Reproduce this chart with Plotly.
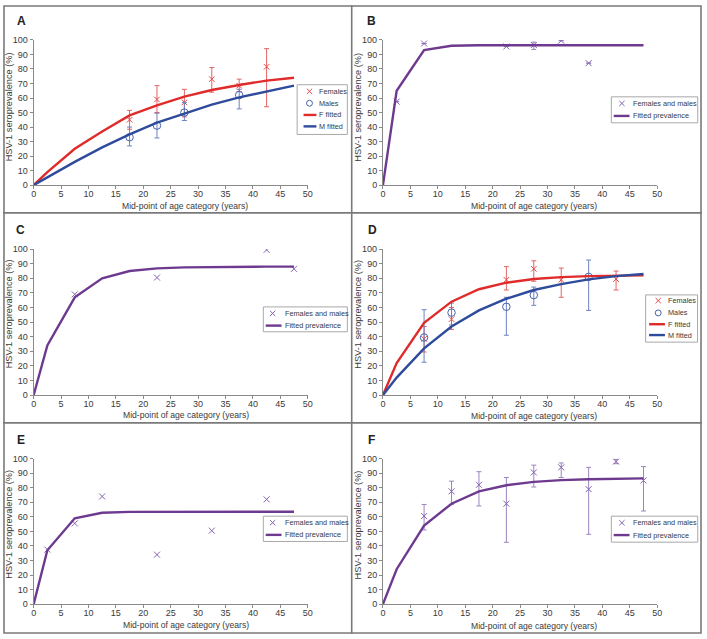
import plotly.graph_objects as go

W, H = 707, 639

# ---------------- data ----------------
fit_age = [0, 2.5, 7.5, 12.5, 17.5, 22.5, 27.5, 32.5, 37.5, 42.5, 47.5]

# Panel A
a_f_age = [17.5, 22.5, 27.5, 32.5, 37.5, 42.5]
a_f_prev = [45, 59, 57, 73, 68.5, 81.5]
a_f_low = [38.5, 50, 47, 64, 64.5, 54]
a_f_high = [51.5, 68.5, 66, 81, 73, 94]
a_m_age = [17.5, 22.5, 27.5, 37.5]
a_m_prev = [33, 41, 50, 62]
a_m_low = [27, 32.5, 44.5, 52.5]
a_m_high = [40, 49.5, 57, 66]
a_f_fit = [0, 9, 25, 37, 48, 55, 61, 65.5, 69, 72, 74]
a_m_fit = [0, 5.5, 16, 26, 35, 43, 49.5, 55.5, 60.5, 64.5, 68.5]

# Panel B
b_age = [2.5, 7.5, 22.5, 27.5, 32.5, 37.5]
b_prev = [57.5, 97.5, 95.5, 96.5, 99.5, 84]
b_low = [None, None, None, 93.5, None, None]
b_high = [None, None, None, 98.5, None, None]
b_fit = [0, 65, 93, 96, 96.3, 96.3, 96.3, 96.3, 96.3, 96.3, 96.3]

# Panel C
c_age = [7.5, 22.5, 42.5, 47.5]
c_prev = [69, 80.5, 99.5, 86.5]
c_fit = [0, 34, 67, 80, 85, 86.8, 87.5, 87.8, 88, 88, 88]

# Panel D
d_f_age = [7.5, 12.5, 22.5, 27.5, 32.5, 42.5]
d_f_prev = [38.5, 52, 79, 86.5, 79, 79.5]
d_f_low = [29.5, 45, 72, 78, 67, 72]
d_f_high = [47, 60, 88, 92, 87, 85]
d_m_age = [7.5, 12.5, 22.5, 27.5, 37.5]
d_m_prev = [39.5, 56.5, 60.5, 68.5, 81]
d_m_low = [22.5, 48, 41, 61.5, 58]
d_m_high = [58.5, 63, 67, 74, 92.5]
d_f_fit = [0, 22, 49.5, 64, 72.5, 77, 79.5, 80.8, 81.5, 82, 82]
d_m_fit = [0, 12, 32, 47, 58, 66, 72, 76, 79.3, 81.5, 83]

# Panel E
e_age = [2.5, 7.5, 12.5, 22.5, 32.5, 42.5]
e_prev = [37.5, 55.5, 74, 34, 50.5, 72]
e_fit = [0, 37, 59, 62.8, 63.4, 63.5, 63.5, 63.5, 63.5, 63.5, 63.5]

# Panel F
f_age = [7.5, 12.5, 17.5, 22.5, 27.5, 32.5, 37.5, 42.5, 47.5]
f_prev = [60.5, 77.5, 82, 69, 90.5, 94, 79, 98, 85]
f_low = [51, 68.5, 67.5, 42.5, 80.5, 87, 48, 96.5, 64]
f_high = [68.5, 84.5, 91, 87, 95.5, 97, 94, 99.5, 94.5]
f_fit = [0, 24, 54, 69, 77.5, 81.7, 84, 85.2, 85.8, 86.2, 86.4]

x_ticks = [0, 5, 10, 15, 20, 25, 30, 35, 40, 45, 50]
y_ticks = [0, 10, 20, 30, 40, 50, 60, 70, 80, 90, 100]
x_title = "Mid-point of age category (years)"
y_title = "HSV-1 seroprevalence (%)"

# ---------------- styles ----------------
FONT = "Liberation Sans, Arial, sans-serif"
RED_L, RED_M, RED_E = "#E02B2B", "#E5484A", "#E46464"
BLUE_L, BLUE_M, BLUE_E = "#2E4B9C", "#4A64B0", "#6E82C2"
PUR_L, PUR_M, PUR_E = "#6E3A90", "#8663B0", "#9C84C0"
AX = "#8A8A8A"
TXT = "#3A3A3A"


def px(x):
    return x / W


def py(y):
    return 1 - y / H


def errs(prev, low, high):
    plus = [None if h is None else h - v for v, h in zip(prev, high)]
    minus = [None if l is None else v - l for v, l in zip(prev, low)]
    return plus, minus


fig = go.Figure()

# panel geometry (pixels)
col_x = [(31, 308.2), (384.3, 661.7)]
row_y = [(183, 35.5), (396.3, 248), (608.7, 460.8)]


def add_points(ax, age, prev, color, ecolor, symbol, size, low=None, high=None):
    kw = {}
    if low is not None:
        plus, minus = errs(prev, low, high)
        kw["error_y"] = dict(type="data", symmetric=False, array=plus, arrayminus=minus,
                             color=ecolor, thickness=1, width=2.5)
    fig.add_trace(go.Scatter(
        x=age, y=prev, mode="markers", xaxis="x" + ax, yaxis="y" + ax, showlegend=False,
        marker=dict(symbol=symbol, size=size, color=color, line=dict(color=color, width=1)),
        **kw))


def add_fit(ax, values, color):
    fig.add_trace(go.Scatter(
        x=fit_age, y=values, mode="lines", xaxis="x" + ax, yaxis="y" + ax, showlegend=False,
        line=dict(color=color, width=2.4)))


# traces
add_points("1", a_f_age, a_f_prev, RED_M, RED_E, "x-thin-open", 5.5, a_f_low, a_f_high)
add_points("1", a_m_age, a_m_prev, BLUE_M, BLUE_E, "circle-open", 7.5, a_m_low, a_m_high)
add_fit("1", a_f_fit, RED_L)
add_fit("1", a_m_fit, BLUE_L)

add_points("2", b_age, b_prev, PUR_M, PUR_E, "x-thin-open", 6, b_low, b_high)
add_fit("2", b_fit, PUR_L)

add_points("3", c_age, c_prev, PUR_M, PUR_E, "x-thin-open", 6)
add_fit("3", c_fit, PUR_L)

add_points("4", d_f_age, d_f_prev, RED_M, RED_E, "x-thin-open", 5.5, d_f_low, d_f_high)
add_points("4", d_m_age, d_m_prev, BLUE_M, BLUE_E, "circle-open", 7.5, d_m_low, d_m_high)
add_fit("4", d_f_fit, RED_L)
add_fit("4", d_m_fit, BLUE_L)

add_points("5", e_age, e_prev, PUR_M, PUR_E, "x-thin-open", 6)
add_fit("5", e_fit, PUR_L)

add_points("6", f_age, f_prev, PUR_M, PUR_E, "x-thin-open", 6, f_low, f_high)
add_fit("6", f_fit, PUR_L)

layout = dict(
    width=W, height=H, margin=dict(l=0, r=0, t=0, b=0),
    paper_bgcolor="white", plot_bgcolor="white", showlegend=False,
    font=dict(family=FONT, color=TXT, size=9),
)

shapes = []
annotations = []

panels = [
    # letter, col, row, letter center (px), x-title center, y-title center
    ("A", 0, 0, (18.7, 15.8), (184.5, 204.5), (6, 103)),
    ("B", 1, 0, (373.2, 15.8), (537.3, 204.5), (358.7, 103.7)),
    ("C", 0, 1, (17.8, 228.3), (184.7, 417), (6, 313.3)),
    ("D", 1, 1, (373.5, 228.3), (537.3, 417.5), (358.7, 314)),
    ("E", 0, 2, (17.8, 441.7), (184.7, 629.5), (6, 527)),
    ("F", 1, 2, (372.7, 441.7), (537.3, 630.5), (358.7, 528)),
]

for i, (letter, c, r, lpos, xt, yt) in enumerate(panels, start=1):
    x0, x1 = col_x[c]
    yb, ytop = row_y[r]
    sfx = "" if i == 1 else str(i)
    axis_common = dict(showline=True, linecolor=AX, linewidth=1, ticks="outside",
                       ticklen=3, tickwidth=1, tickcolor=AX, showgrid=False, zeroline=False,
                       tickfont=dict(family=FONT, size=9, color=TXT), fixedrange=True)
    layout["xaxis" + sfx] = dict(domain=[px(x0), px(x1)], range=[0, 50], tickvals=x_ticks,
                                 anchor="y" + sfx, ticklabelstandoff=-3, **axis_common)
    layout["yaxis" + sfx] = dict(domain=[py(yb), py(ytop)], range=[0, 100], tickvals=y_ticks,
                                 anchor="x" + sfx, **axis_common)
    annotations.append(dict(text="<b>%s</b>" % letter, x=px(lpos[0]), y=py(lpos[1]),
                            xref="paper", yref="paper", showarrow=False,
                            xanchor="center", yanchor="middle",
                            font=dict(family=FONT, size=12, color="#222222")))
    annotations.append(dict(text=x_title, x=px(xt[0]), y=py(xt[1]), xref="paper", yref="paper",
                            showarrow=False, xanchor="center", yanchor="middle",
                            font=dict(family=FONT, size=8.6, color=TXT)))
    annotations.append(dict(text=y_title, x=px(yt[0]), y=py(yt[1]), xref="paper", yref="paper",
                            showarrow=False, xanchor="center", yanchor="middle", textangle=-90,
                            font=dict(family=FONT, size=9.2, color=TXT)))

# ---------------- legends ----------------
two_sex = [("Females", "x", RED_M), ("Males", "o", BLUE_M),
           ("F fitted", "line", RED_L), ("M fitted", "line", BLUE_L)]
pooled = [("Females and males", "x", PUR_M), ("Fitted prevalence", "line", PUR_L)]

legends = [
    # box (x0, y0, x1, y1), row centers, symbol x, line x0, line x1, text x, entries
    ((297.5, 81, 348.3, 131.5), [87.7, 99.8, 111.7, 123.3], 310, 304, 317, 317.8, two_sex),
    ((615.3, 93.3, 702.7, 119.7), [100, 112.7], 626, 617.7, 633.7, 634.7, pooled),
    ((263.3, 306.7, 348.3, 332), [313.3, 325.7], 272.7, 265.7, 281.7, 282.7, pooled),
    ((650, 294.5, 702.5, 342.5), [300.3, 312.8, 324.3, 335.3], 662.7, 653.5, 669.5, 670.3, two_sex),
    ((263.3, 519.3, 348.3, 545), [525.9, 538.3], 272.7, 265.7, 281.7, 282.7, pooled),
    ((615.3, 519.3, 702.7, 545.7), [526, 538.5], 626, 617.7, 633.7, 634.7, pooled),
]

for box, rows, sx, lx0, lx1, tx, entries in legends:
    shapes.append(dict(type="rect", xref="paper", yref="paper",
                       x0=px(box[0]), x1=px(box[2]), y0=py(box[3]), y1=py(box[1]),
                       line=dict(color="#A8A8A8", width=1), fillcolor="white", layer="above"))
    for ry, (name, kind, color) in zip(rows, entries):
        if kind == "x":
            d = 2.7
            path = "M %f,%f L %f,%f M %f,%f L %f,%f" % (
                px(sx - d), py(ry - d), px(sx + d), py(ry + d),
                px(sx - d), py(ry + d), px(sx + d), py(ry - d))
            shapes.append(dict(type="path", xref="paper", yref="paper", path=path,
                               line=dict(color=color, width=1), layer="above"))
        elif kind == "o":
            rr = 3
            shapes.append(dict(type="circle", xref="paper", yref="paper",
                               x0=px(sx - rr), x1=px(sx + rr), y0=py(ry + rr), y1=py(ry - rr),
                               line=dict(color=color, width=1), layer="above"))
        else:
            shapes.append(dict(type="line", xref="paper", yref="paper",
                               x0=px(lx0), x1=px(lx1), y0=py(ry), y1=py(ry),
                               line=dict(color=color, width=2.4), layer="above"))
        annotations.append(dict(text=name, x=px(tx), y=py(ry), xref="paper", yref="paper",
                                showarrow=False, xanchor="left", yanchor="middle",
                                font=dict(family=FONT, size=7.3, color=TXT)))

# ---------------- panel borders ----------------
BORDER = "#7A7A7A"
shapes.append(dict(type="rect", xref="paper", yref="paper", x0=px(1), x1=px(706), y0=py(638), y1=py(1),
                   line=dict(color=BORDER, width=1.6), layer="above"))
shapes.append(dict(type="line", xref="paper", yref="paper", x0=px(352.7), x1=px(352.7), y0=py(0), y1=py(639),
                   line=dict(color=BORDER, width=1.6), layer="above"))
for yy in (211.2, 424.5):
    shapes.append(dict(type="line", xref="paper", yref="paper", x0=px(0), x1=px(707), y0=py(yy), y1=py(yy),
                       line=dict(color=BORDER, width=1.6), layer="above"))

layout["shapes"] = shapes
layout["annotations"] = annotations
fig.update_layout(**layout)

fig.write_html("out.html", config={"displayModeBar": False},
               post_script="document.body.style.margin='0';document.body.style.overflow='hidden';")
